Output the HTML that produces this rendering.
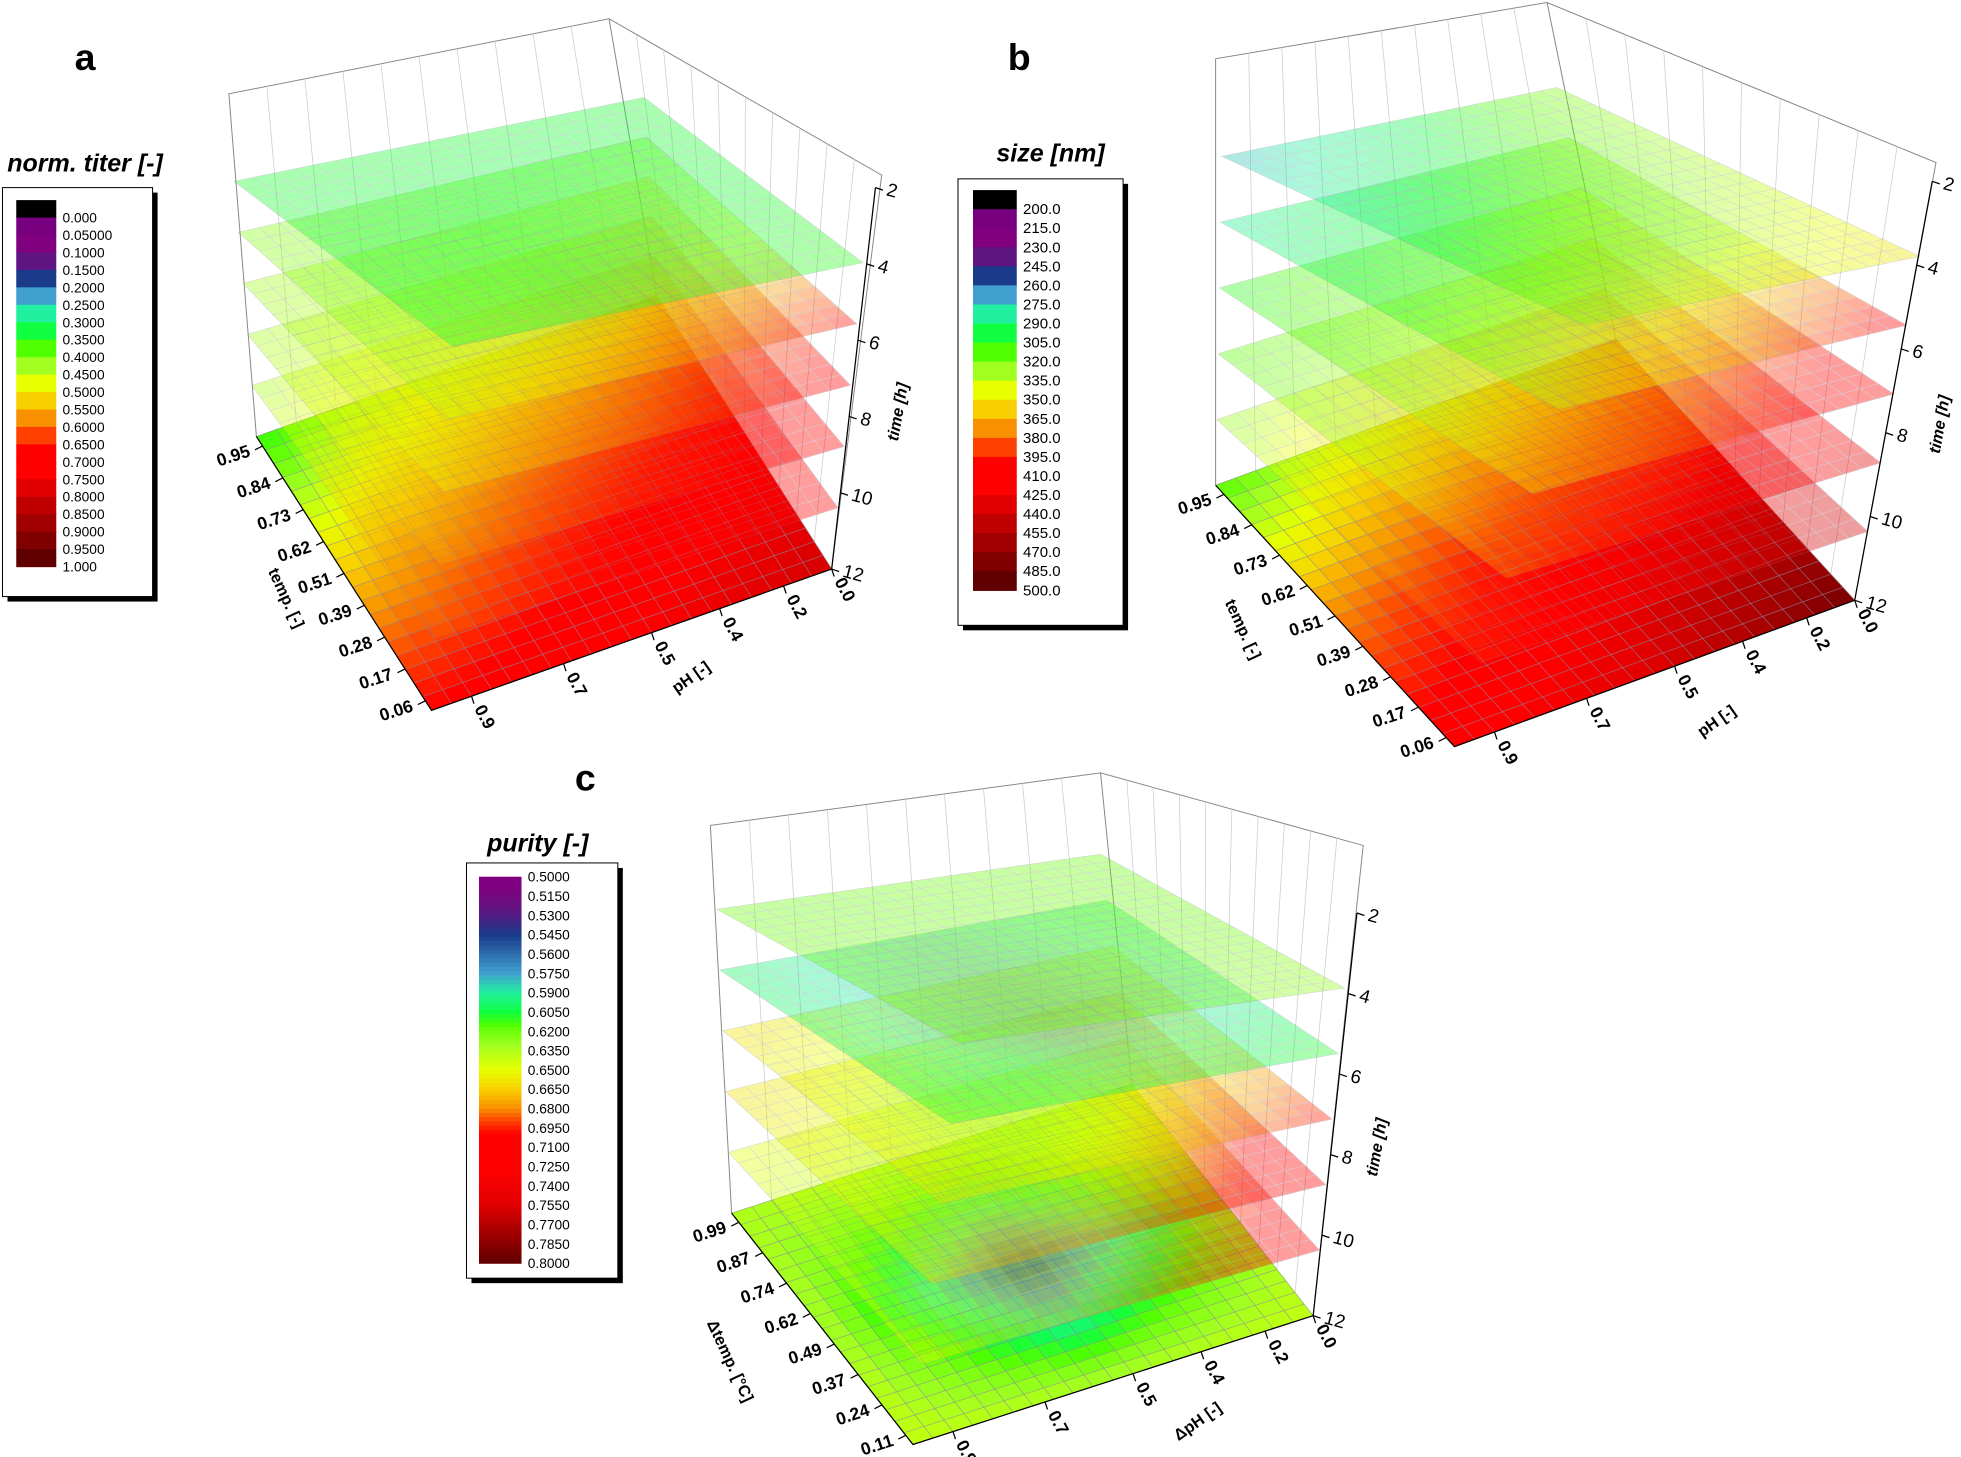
<!DOCTYPE html>
<html><head><meta charset="utf-8">
<style>
html,body{margin:0;padding:0;background:#fff;}
svg{display:block;}
text{font-family:"Liberation Sans",sans-serif;}
</style></head>
<body>
<svg id="fig" width="1961" height="1457" viewBox="0 0 1568 1165" preserveAspectRatio="none" xmlns="http://www.w3.org/2000/svg">
<rect width="1568" height="1165" fill="#fff"/>
</svg>
<script>
// ---------- data ----------
const layerTimes = [12, 10, 8, 6, 4, 2];
const titerLayers = [
  [[0.38,0.50,0.60],[0.55,0.66,0.74],[0.70,0.75,0.82]],
  [[0.45,0.55,0.62],[0.55,0.65,0.72],[0.62,0.70,0.76]],
  [[0.45,0.50,0.58],[0.50,0.58,0.68],[0.58,0.66,0.74]],
  [[0.45,0.47,0.52],[0.47,0.52,0.62],[0.52,0.60,0.72]],
  [[0.44,0.42,0.42],[0.44,0.40,0.50],[0.48,0.55,0.70]],
  [[0.36,0.36,0.36],[0.36,0.35,0.36],[0.36,0.36,0.38]]
];
const sizeLayers = [
  [[320,360,400],[380,420,440],[420,440,490]],
  [[330,370,400],[370,400,430],[400,430,450]],
  [[320,340,370],[340,360,400],[380,410,440]],
  [[310,330,350],[330,345,380],[360,390,430]],
  [[290,310,330],[310,320,340],[340,370,420]],
  [[280,300,330],[300,320,340],[330,345,360]]
];
const purityLayers = [
  [[0.635,0.635,0.635],[0.635,0.55,0.63],[0.64,0.635,0.64]],
  [[0.65,0.64,0.66],[0.64,0.62,0.68],[0.65,0.68,0.72]],
  [[0.66,0.65,0.67],[0.65,0.63,0.69],[0.66,0.69,0.72]],
  [[0.66,0.65,0.65],[0.65,0.62,0.66],[0.66,0.66,0.70]],
  [[0.60,0.58,0.60],[0.60,0.565,0.59],[0.61,0.60,0.61]],
  [[0.62,0.62,0.62],[0.62,0.62,0.62],[0.62,0.62,0.63]]
];
const titerTicks = ["0.000","0.05000","0.1000","0.1500","0.2000","0.2500","0.3000","0.3500","0.4000","0.4500","0.5000","0.5500","0.6000","0.6500","0.7000","0.7500","0.8000","0.8500","0.9000","0.9500","1.000"];
const sizeTicks = ["200.0","215.0","230.0","245.0","260.0","275.0","290.0","305.0","320.0","335.0","350.0","365.0","380.0","395.0","410.0","425.0","440.0","455.0","470.0","485.0","500.0"];
const purityTicks = ["0.5000","0.5150","0.5300","0.5450","0.5600","0.5750","0.5900","0.6050","0.6200","0.6350","0.6500","0.6650","0.6800","0.6950","0.7100","0.7250","0.7400","0.7550","0.7700","0.7850","0.8000"];
const tempTicksAB = ["0.95","0.84","0.73","0.62","0.51","0.39","0.28","0.17","0.06"];
const tempTicksC = ["0.99","0.87","0.74","0.62","0.49","0.37","0.24","0.11"];
const phTicks = ["0.9","0.7","0.5","0.4","0.2","0.0"];
const phTickFrac = [0.1,0.33,0.55,0.72,0.88,1.0];
const timeTicks = ["2","4","6","8","10","12"];
const purityAnchorsV = [0.5,0.545,0.575,0.59,0.605,0.62,0.65,0.68,0.70,0.755,0.8];
const purityAnchorsF = [0.08,0.2,0.25,0.3,0.35,0.42,0.5,0.6,0.7,0.8,1.0];

// ---------- helpers ----------
const NS="http://www.w3.org/2000/svg";
const svg=document.getElementById('fig');
function mk(tag,attrs,parent){const e=document.createElementNS(NS,tag);for(const k in attrs)e.setAttribute(k,attrs[k]);(parent||svg).appendChild(e);return e;}
const stops=[[0,[0,0,0]],[0.05,[120,0,128]],[0.1,[128,0,128]],[0.15,[96,20,130]],[0.2,[26,58,138]],[0.25,[64,160,208]],[0.3,[32,240,160]],[0.35,[16,255,64]],[0.4,[80,255,0]],[0.45,[160,255,32]],[0.5,[232,255,0]],[0.55,[248,208,0]],[0.6,[248,144,0]],[0.65,[255,64,0]],[0.7,[255,0,0]],[0.75,[255,0,0]],[0.8,[224,0,0]],[0.85,[192,0,0]],[0.9,[160,0,0]],[0.95,[128,0,0]],[1,[96,0,0]]];
function cmap(f){f=Math.max(0,Math.min(1,f));for(let i=1;i<stops.length;i++){if(f<=stops[i][0]){const a=stops[i-1],b=stops[i];const t=(f-a[0])/(b[0]-a[0]);const c=a[1].map((v,j)=>Math.round(v+(b[1][j]-v)*t));return `rgb(${c[0]},${c[1]},${c[2]})`;}}return 'rgb(96,0,0)';}
function purityNorm(v){const A=purityAnchorsV,B=purityAnchorsF;if(v<=A[0])return B[0];for(let i=1;i<A.length;i++){if(v<=A[i]){const t=(v-A[i-1])/(A[i]-A[i-1]);return B[i-1]+(B[i]-B[i-1])*t;}}return 1;}
const L=(a,b,t)=>[a[0]+(b[0]-a[0])*t,a[1]+(b[1]-a[1])*t];
function bil(g,u,v){const x=u*2,y=v*2;const i=Math.min(1,Math.floor(x)),j=Math.min(1,Math.floor(y));const fx=x-i,fy=y-j;
 return g[i][j]*(1-fx)*(1-fy)+g[i+1][j]*fx*(1-fy)+g[i][j+1]*(1-fx)*fy+g[i+1][j+1]*fx*fy;}

function panel(cfg){
 const G=mk('g',{});  
 const bx=mk('g',{stroke:'#888','stroke-width':0.8,fill:'none'},G);
 
 const T=cfg.boxTop;
 mk('polyline',{points:`${cfg.L12[0]},${cfg.L12[1]} ${T.l[0]},${T.l[1]} ${T.b[0]},${T.b[1]} ${T.r[0]},${T.r[1]} ${cfg.R12[0]},${cfg.R12[1]}`},bx);
 mk('line',{x1:T.b[0],y1:T.b[1],x2:cfg.B12[0],y2:cfg.B12[1]},bx);
 for(let k=1;k<10;k++){const p=L(T.l,T.b,k/10),q=L(cfg.L12,cfg.B12,k/10);mk('line',{x1:p[0],y1:p[1],x2:q[0],y2:q[1],stroke:'#ccc','stroke-width':0.6},bx);
  const p2=L(T.b,T.r,k/10),q2=L(cfg.B12,cfg.R12,k/10);mk('line',{x1:p2[0],y1:p2[1],x2:q2[0],y2:q2[1],stroke:'#ccc','stroke-width':0.6},bx);}
 const N=20;
 layerTimes.forEach((t,li)=>{
  const s=(t-2)/10;
  const Lc=L(cfg.L2,cfg.L12,s),Fc=L(cfg.F2,cfg.F12,s),Bc=L(cfg.B2,cfg.B12,s);
  const P=(u,v)=>[Lc[0]+(Fc[0]-Lc[0])*u+(Bc[0]-Lc[0])*v,Lc[1]+(Fc[1]-Lc[1])*u+(Bc[1]-Lc[1])*v];
  const lg=mk('g',{opacity:t===12?1:0.38},G);
  
  
  const g=cfg.layers[li];
  for(let i=0;i<N;i++)for(let j=0;j<N;j++){
   const val=bil(g,(i+0.5)/N,(j+0.5)/N);
   const c=cmap(cfg.norm(val));
   const a=P(i/N,j/N),b=P((i+1)/N,j/N),cc=P((i+1)/N,(j+1)/N),d=P(i/N,(j+1)/N);
   mk('polygon',{points:`${a[0].toFixed(1)},${a[1].toFixed(1)} ${b[0].toFixed(1)},${b[1].toFixed(1)} ${cc[0].toFixed(1)},${cc[1].toFixed(1)} ${d[0].toFixed(1)},${d[1].toFixed(1)}`,fill:c,stroke:c,'stroke-width':0.4},lg);
  }
  for(let k=0;k<=N;k++){const a=P(k/N,0),b=P(k/N,1);mk('line',{x1:a[0],y1:a[1],x2:b[0],y2:b[1],stroke:'#8a8aa0','stroke-width':0.6,opacity:0.7},lg);
   const c=P(0,k/N),d=P(1,k/N);mk('line',{x1:c[0],y1:c[1],x2:d[0],y2:d[1],stroke:'#8a8aa0','stroke-width':0.6,opacity:0.7},lg);}
 });
 mk('polyline',{points:`${cfg.L12[0]},${cfg.L12[1]} ${cfg.F12[0]},${cfg.F12[1]} ${cfg.R12[0]},${cfg.R12[1]}`,fill:'none',stroke:'#000','stroke-width':1},G);
 const ta=mk('g',{},G);
 mk('line',{x1:cfg.R2[0]+10,y1:cfg.R2[1]-60,x2:cfg.R12[0],y2:cfg.R12[1],stroke:'#000','stroke-width':1},ta);
 timeTicks.forEach((tk,k)=>{const s=(parseFloat(tk)-2)/10;const R=L(cfg.R2,cfg.R12,s);const x=R[0]+10*(1-s),y=R[1]-60*(1-s);
  mk('line',{x1:x,y1:y,x2:x+6,y2:y+2,stroke:'#000'},ta);
  const tx=mk('text',{x:x+8,y:y+6,'font-size':15,transform:`rotate(15 ${x+8} ${y+6})`},ta);tx.textContent=tk;});
 const tm=cfg.timeLabel;const tt=mk('text',{x:tm[0],y:tm[1],'font-size':13,'font-weight':'bold','font-style':'italic',transform:`rotate(-80 ${tm[0]} ${tm[1]})`,'text-anchor':'middle'},ta);tt.textContent='time [h]';
 const tg=mk('g',{},G);
 cfg.tempTicks.forEach((tk,k)=>{const f=(k+0.3)/(cfg.tempTicks.length-0.4);const p=L(cfg.L12,cfg.F12,f);
  mk('line',{x1:p[0],y1:p[1],x2:p[0]-6,y2:p[1]+3,stroke:'#000'},tg);
  const tx=mk('text',{x:p[0]-9,y:p[1]+8,'font-size':14,'font-weight':'bold','text-anchor':'end',transform:`rotate(-18 ${p[0]-9} ${p[1]+8})`},tg);tx.textContent=tk;});
 const tl=cfg.tempLabel;const tlt=mk('text',{x:tl[0],y:tl[1],'font-size':13,'font-weight':'bold','text-anchor':'middle',transform:`rotate(65 ${tl[0]} ${tl[1]})`},tg);tlt.textContent=cfg.tempName;
 const pg=mk('g',{},G);
 phTicks.forEach((tk,k)=>{const f=phTickFrac[k];const p=L(cfg.F12,cfg.R12,f);
  mk('line',{x1:p[0],y1:p[1],x2:p[0]+2,y2:p[1]+6,stroke:'#000'},pg);
  const tx=mk('text',{x:p[0]+2,y:p[1]+10,'font-size':14,'font-weight':'bold',transform:`rotate(62 ${p[0]+2} ${p[1]+10})`},pg);tx.textContent=tk;});
 const pl=cfg.phLabel;const plt=mk('text',{x:pl[0],y:pl[1],'font-size':13,'font-weight':'bold','text-anchor':'middle',transform:`rotate(-35 ${pl[0]} ${pl[1]})`},pg);plt.textContent=cfg.phName;
 const lt=mk('text',{x:cfg.letter[0],y:cfg.letter[1],'font-size':30,'font-weight':'bold','text-anchor':'middle'},G);lt.textContent=cfg.letterText;
 
 const cb=cfg.cb;const lgG=mk('g',{},G);
 mk('rect',{x:cb.box[0]+4,y:cb.box[1]+4,width:cb.box[2],height:cb.box[3],fill:'#000'},lgG);
 mk('rect',{x:cb.box[0],y:cb.box[1],width:cb.box[2],height:cb.box[3],fill:'#fff',stroke:'#000','stroke-width':0.8},lgG);
 const nt=cfg.ticks.length;
 if(cb.mode==='bands'){
  const bh=cb.bar[3]/nt;
  for(let k=0;k<nt;k++){const v=parseFloat(cfg.ticks[k]);
   const r=mk('rect',{x:cb.bar[0],y:cb.bar[1]+k*bh,width:cb.bar[2],height:bh+0.5,fill:cmap(cfg.norm(v))},lgG);
   }
  cfg.ticks.forEach((tk,k)=>{const tx=mk('text',{x:cb.bar[0]+cb.bar[2]+5,y:cb.bar[1]+(k+1)*bh+4,'font-size':cb.fs},lgG);tx.textContent=tk;});
 } else {
  const v0=parseFloat(cfg.ticks[0]),v1=parseFloat(cfg.ticks[nt-1]);const M=90;const sh=cb.bar[3]/M;
  for(let k=0;k<M;k++){const v=v0+(v1-v0)*(k+0.5)/M;
   const r=mk('rect',{x:cb.bar[0],y:cb.bar[1]+k*sh,width:cb.bar[2],height:sh+0.5,fill:cmap(cfg.norm(v))},lgG);
   }
  const bh=cb.bar[3]/(nt-1);
  cfg.ticks.forEach((tk,k)=>{const tx=mk('text',{x:cb.bar[0]+cb.bar[2]+5,y:cb.bar[1]+k*bh+4,'font-size':cb.fs},lgG);tx.textContent=tk;});
 }
 const ti=mk('text',{x:cb.title[0],y:cb.title[1],'font-size':20,'font-weight':'bold','font-style':'italic','text-anchor':'middle'},lgG);ti.textContent=cfg.title;
 
}
function F(Lp,Rp,Bp){return [Lp[0]+Rp[0]-Bp[0],Lp[1]+Rp[1]-Bp[1]];}

(function(){const L2=[187,145],B2=[515,78],R2=[690,210],L12=[205,349],R12=[665,455],F12=[345,568];
 const B12=[L12[0]+R12[0]-F12[0],L12[1]+R12[1]-F12[1]];
 panel({name:'panel-a-norm-titer',L2,B2,R2,F2:F(L2,R2,B2),L12,R12,F12,B12,boxTop:{l:[183,75],b:[487,15],r:[705,140]},
  layers:titerLayers,norm:v=>v,ticks:titerTicks,tempTicks:tempTicksAB,tempName:'temp. [-]',phName:'pH [-]',
  timeLabel:[722,330],tempLabel:[225,480],phLabel:[555,545],letter:[68,56],letterText:'a',
  cb:{mode:'bands',box:[2,150,120,327],bar:[13,160,32,293],fs:11,title:[68,137]},title:'norm. titer [-]'});})();
(function(){const L2=[977,125],B2=[1245,70],R2=[1535,205],L12=[972,388],R12=[1483,480],F12=[1163,597];
 const B12=[L12[0]+R12[0]-F12[0],L12[1]+R12[1]-F12[1]];
 panel({name:'panel-b-size',L2,B2,R2,F2:F(L2,R2,B2),L12,R12,F12,B12,boxTop:{l:[972,47],b:[1237,2],r:[1548,130]},
  layers:sizeLayers,norm:v=>(v-200)/300,ticks:sizeTicks,tempTicks:tempTicksAB,tempName:'temp. [-]',phName:'pH [-]',
  timeLabel:[1555,340],tempLabel:[990,505],phLabel:[1375,580],letter:[815,56],letterText:'b',
  cb:{mode:'bands',box:[766,143,132,357],bar:[778,152,35,320],fs:12,title:[840,129]},title:'size [nm]'});})();
(function(){const L2=[573,727],B2=[880,683],R2=[1075,790],L12=[585,970],R12=[1050,1052],F12=[730,1155];
 const B12=[L12[0]+R12[0]-F12[0],L12[1]+R12[1]-F12[1]];
 panel({name:'panel-c-purity',L2,B2,R2,F2:F(L2,R2,B2),L12,R12,F12,B12,boxTop:{l:[568,660],b:[880,618],r:[1090,676]},
  layers:purityLayers,norm:purityNorm,ticks:purityTicks,tempTicks:tempTicksC,tempName:'\u0394temp. [°C]',phName:'\u0394pH [-]',
  timeLabel:[1105,918],tempLabel:[580,1090],phLabel:[960,1140],letter:[468,632],letterText:'c',
  cb:{mode:'smooth',box:[373,690,121,332],bar:[383,701,34,309],fs:11,title:[430,681]},title:'purity [-]'});})();
</script>
</body></html>
